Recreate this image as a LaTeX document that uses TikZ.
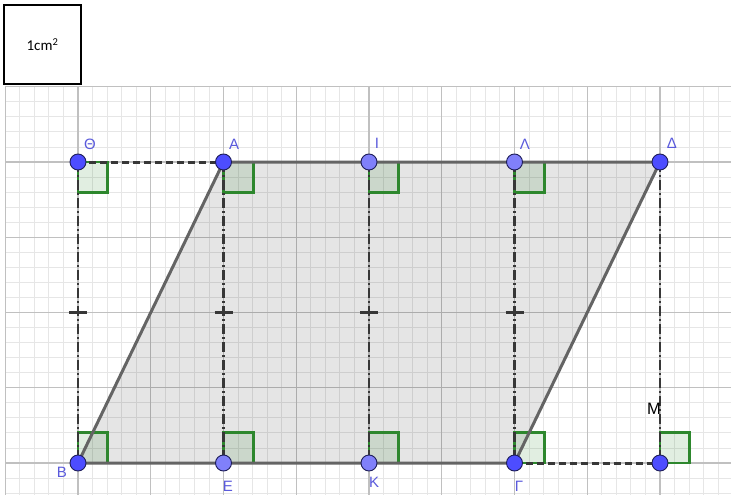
\documentclass[tikz,border=0pt]{standalone}
\usepackage{fontspec}
\setmainfont{Carlito}
\newfontfamily\labfont{Liberation Sans}
\usetikzlibrary{calc}
\definecolor{minorc}{RGB}{230,230,230}
\definecolor{majorc}{RGB}{192,192,192}
\definecolor{edgec}{RGB}{100,100,100}
\definecolor{dashc}{RGB}{55,55,55}
\definecolor{sqc}{RGB}{45,135,45}
\definecolor{ptdark}{RGB}{77,77,255}
\definecolor{ptlight}{RGB}{128,128,250}
\definecolor{ptline}{RGB}{30,30,90}
\definecolor{labc}{RGB}{90,90,220}
\tikzset{
  minorline/.style={draw=minorc, line width=0.9pt},
  majorline/.style={draw=majorc, line width=1.2pt},
  edge/.style={draw=edgec, line width=3pt},
  dashedseg/.style={draw=dashc, line width=3pt, dash pattern=on 7pt off 4pt},
  dashdot/.style={draw=dashc, line width=2.8pt, dash pattern=on 10pt off 3pt on 2pt off 3pt},
  tickmark/.style={draw=dashc, line width=3pt},
  rightsq/.style={draw=sqc, line width=2.8pt, fill=sqc, fill opacity=0.14},
  ptd/.style={circle, inner sep=0pt, minimum size=16pt, fill=ptdark, draw=ptline, line width=0.9pt},
  ptl/.style={circle, inner sep=0pt, minimum size=16pt, fill=ptlight, draw=ptline, line width=0.9pt},
  lab/.style={text=labc, font=\labfont\fontsize{15pt}{15pt}\selectfont, inner sep=0pt},
}
\begin{document}
\begin{tikzpicture}
\useasboundingbox (0,0) rectangle (731pt,-495pt);
\fill[white] (0,0) rectangle (731pt,-495pt);
\node[draw=black, line width=1.6pt, minimum width=77pt, minimum height=79pt, inner sep=0pt,
  font=\fontsize{15pt}{15pt}\selectfont] (box) at (42.5pt,-44.5pt) {1cm\textsuperscript{2}};
\begin{scope}[shift={(78pt,-463pt)}, x=72.75pt, y=75.25pt]
  % grid
  \foreach \k in {-5,...,44} {\path[minorline] (\k*0.2,-0.43) -- (\k*0.2,5);}
  \foreach \k in {-2,...,25} {\path[minorline] (-1,\k*0.2) -- (8.98,\k*0.2);}
  \foreach \k in {-1,...,8} {\path[majorline] (\k,-0.43) -- (\k,5);}
  \foreach \k in {0,...,5} {\path[majorline] (-1,\k) -- (8.98,\k);}
  % points
  \coordinate (B) at (0,0);
  \coordinate (E) at (2,0);
  \coordinate (K) at (4,0);
  \coordinate (G) at (6,0);
  \coordinate (M) at (8,0);
  \coordinate (T) at (0,4);
  \coordinate (A) at (2,4);
  \coordinate (I) at (4,4);
  \coordinate (L) at (6,4);
  \coordinate (D) at (8,4);
  % parallelogram fill
  \fill[black, fill opacity=0.1] (B) -- (A) -- (D) -- (G) -- cycle;
  % right angle squares
  \foreach \p in {T,A,I,L} {\path[rightsq] (\p) rectangle ++(0.41,-0.41);}
  \foreach \p in {B,E,K,G,M} {\path[rightsq] (\p) rectangle ++(0.41,0.41);}
  % vertical dash-dot lines
  \path[dashdot] (T) -- (B);
  \path[dashdot] (A) -- (E);
  \path[dashdot] (I) -- (K);
  \path[dashdot] (L) -- (G);
  \path[dashdot] (D) -- (M);
  % ticks
  \coordinate (m1) at ($(T)!0.5!(B)$);
  \coordinate (m2) at ($(A)!0.5!(E)$);
  \coordinate (m3) at ($(I)!0.5!(K)$);
  \coordinate (m4) at ($(L)!0.5!(G)$);
  \foreach \m in {m1,m2,m3,m4} {\path[tickmark] (\m) +(-9pt,0) -- +(9pt,0);}
  % dashed segments
  \path[dashedseg] (T) -- (A);
  \path[dashedseg] (G) -- (M);
  % parallelogram edges
  \path[edge] (B) -- (A) -- (D) -- (G) -- cycle;
  % point markers
  \node[ptd] (pT) at (T) {};
  \node[ptd] (pA) at (A) {};
  \node[ptl] (pI) at (I) {};
  \node[ptl] (pL) at (L) {};
  \node[ptd] (pD) at (D) {};
  \node[ptd] (pB) at (B) {};
  \node[ptl] (pE) at (E) {};
  \node[ptl] (pK) at (K) {};
  \node[ptd] (pG) at (G) {};
  \node[ptd] (pM) at (M) {};
\end{scope}
% labels
\node[lab] (lT) at (90pt,-144pt) {Θ};
\node[lab] (lA) at (234pt,-144pt) {Α};
\node[lab] (lI) at (377pt,-143pt) {Ι};
\node[lab] (lL) at (525pt,-144pt) {Λ};
\node[lab] (lD) at (672pt,-143pt) {Δ};
\node[lab] (lB) at (62pt,-472pt) {Β};
\node[lab] (lE) at (228pt,-486pt) {Ε};
\node[lab] (lK) at (374pt,-482pt) {Κ};
\node[lab] (lG) at (519pt,-486pt) {Γ};
\node[text=black, font=\labfont\fontsize{16.5pt}{16.5pt}\selectfont, inner sep=0pt] (lM) at (654pt,-409pt) {M};
\end{tikzpicture}
\end{document}
